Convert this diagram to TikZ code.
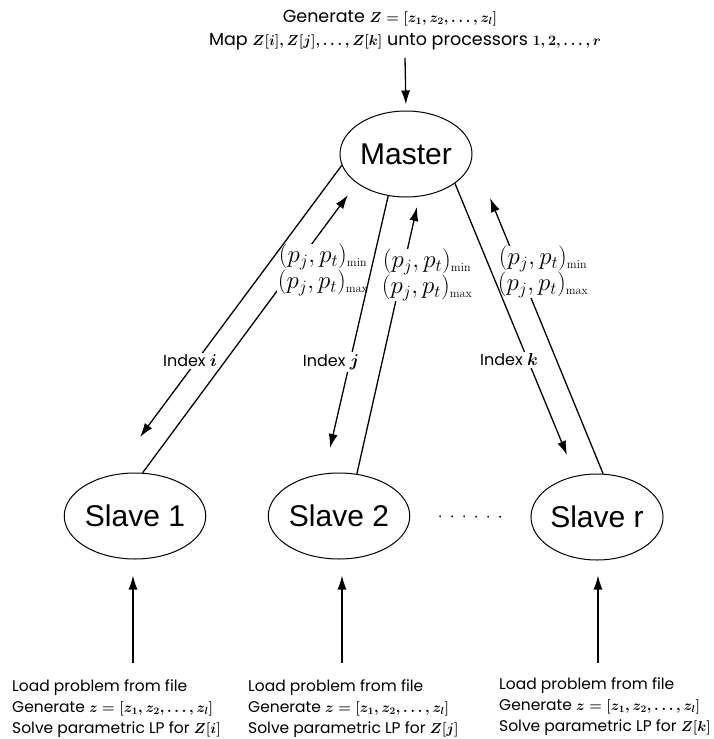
\documentclass[tikz,border=0pt]{standalone}
\usepackage[no-math]{fontspec}
\usepackage{amsmath}
\setmainfont{Poppins}
\newfontfamily\arialf{Liberation Sans}
\usetikzlibrary{arrows.meta,shapes.geometric}
\newcommand{\smath}[1]{{\fontsize{14.5}{16}\selectfont\boldmath$#1$}}
\newcommand{\tmath}[1]{{\fontsize{14}{16}\selectfont\boldmath$#1$}}
\begin{document}
\begin{tikzpicture}[x=1pt,y=-1pt,
  proc/.style={draw, line width=1pt, ellipse, inner sep=0pt, minimum height=86pt, font=\arialf\fontsize{30}{36}\selectfont},
  arr/.style={line width=1.3pt, -{Latex[length=14pt,width=9pt]}},
  lbl/.style={fill=white, inner sep=2pt, font=\fontsize{16}{18}\selectfont\boldmath},
  plbl/.style={fill=white, inner sep=0.5pt, align=center, font=\fontsize{23.5}{26}\selectfont},
  txt/.style={align=left, font=\fontsize{15.5}{21}\selectfont, inner sep=0pt, anchor=north west},
  toptxt/.style={inner sep=0pt, font=\fontsize{17.5}{20}\selectfont}
]
\useasboundingbox (0,0) rectangle (714,739);
% nodes
\node[proc, minimum width=132pt] (M) at (406,154) {Master};
\node[proc, minimum width=132pt] (S1) at (135,516) {Slave 1};
\node[proc, minimum width=124pt] (S2) at (339,516) {Slave 2};
\node[proc, minimum width=120pt] (Sr) at (597,517) {Slave r};
% top text
\node[toptxt] (T1) at (390,18) {Generate \tmath{Z=[z_1,z_2,\ldots,z_l]}};
\node[toptxt] (T2) at (405,42) {Map \tmath{Z[i],Z[j],\ldots,Z[k]} unto processors \tmath{1,2,\ldots,r}};
\coordinate (top) at (405,58);
\draw[arr, shorten >=6pt] (top) -- (M.north);
% free ends
\coordinate (u1) at (348,195);
\coordinate (u2) at (417,207);
\coordinate (u3) at (490,198);
\coordinate (d1) at (140,437);
\coordinate (d2) at (330,448);
\coordinate (d3) at (567,455);
% up arrows
\draw[arr] (S1.80) -- (u1);
\draw[arr] (S2.67) -- (u2);
\draw[arr] (Sr.82) -- (u3);
\node[plbl] (P1) at (323,270) {$(p_j,p_t)_{\scriptscriptstyle\min}$\\$(p_j,p_t)_{\scriptscriptstyle\max}$};
\node[plbl] (P2) at (427,275) {$(p_j,p_t)_{\scriptscriptstyle\min}$\\$(p_j,p_t)_{\scriptscriptstyle\max}$};
\node[plbl] (P3) at (543,272) {$(p_j,p_t)_{\scriptscriptstyle\min}$\\$(p_j,p_t)_{\scriptscriptstyle\max}$};
% down arrows
\draw[arr] (M.190) -- (d1);
\draw[arr] (M.247) -- (d2);
\draw[arr] (M.329) -- (d3);
\node[lbl] (Li) at (190,361) {Index $i$};
\node[lbl] (Lj) at (331,362) {Index $j$};
\node[lbl] (Lk) at (509,360) {Index $k$};
% dots
\draw[line width=1.5pt, dash pattern=on 1.5pt off 10.5pt, shorten <=29pt, shorten >=22pt] (S2.east) -- (Sr.west);
% bottom text
\node[txt] (B1) at (12,679) {Load problem from file\\Generate \smath{z=[z_1,z_2,\ldots,z_l]}\\Solve parametric LP for \smath{Z[i]}};
\node[txt] (B2) at (248,679) {Load problem from file\\Generate \smath{z=[z_1,z_2,\ldots,z_l]}\\Solve parametric LP for \smath{Z[j]}};
\node[txt] (B3) at (499,677) {Load problem from file\\Generate \smath{z=[z_1,z_2,\ldots,z_l]}\\Solve parametric LP for \smath{Z[k]}};
\coordinate (b1) at (133,663);
\coordinate (b2) at (342,663);
\coordinate (b3) at (598,663);
\draw[arr, shorten >=16pt] (b1) -- (b1 |- S1.south);
\draw[arr, shorten >=16pt] (b2) -- (b2 |- S2.south);
\draw[arr, shorten >=15pt] (b3) -- (b3 |- Sr.south);
\end{tikzpicture}
\end{document}
